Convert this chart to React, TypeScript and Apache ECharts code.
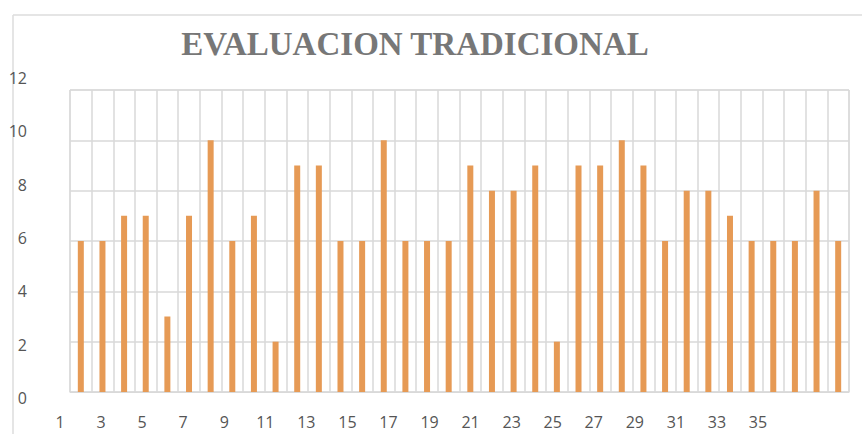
import React, { useEffect, useRef } from "react";
import * as echarts from "echarts";

const title = "EVALUACION TRADICIONAL";
const categories = [
  "1", "2", "3", "4", "5", "6", "7", "8", "9", "10", "11", "12",
  "13", "14", "15", "16", "17", "18", "19", "20", "21", "22", "23", "24",
  "25", "26", "27", "28", "29", "30", "31", "32", "33", "34", "35", "36",
];
const values = [
  6, 6, 7, 7, 3, 7, 10, 6, 7, 2, 9, 9,
  6, 6, 10, 6, 6, 6, 9, 8, 8, 9, 2, 9,
  9, 10, 9, 6, 8, 8, 7, 6, 6, 6, 8, 6,
];
const xTickLabels = [
  "1", "2", "3", "4", "5", "6", "7", "8", "9", "10", "11", "12",
  "13", "14", "15", "16", "17", "18", "19", "20", "21", "22", "23", "24",
  "25", "26", "27", "28", "29", "30", "31", "32", "33", "34", "35",
];
const yMin = 0;
const yMax = 12;
const yStep = 2;

export default function App() {
  const ref = useRef<HTMLDivElement>(null);
  useEffect(() => {
    document.body.style.margin = "0";
    if (!ref.current) return;
    const chart = echarts.init(ref.current, null, { renderer: "svg" });
    const grid = "#d9d9d9";
    const labelFont = { fontFamily: "Open Sans", fontSize: 16, color: "#555555" };
    chart.setOption({
      animation: false,
      backgroundColor: "#ffffff",
      grid: [
        { left: 70, top: 90, width: 779, height: 302, show: true, borderColor: grid, borderWidth: 1 },
        { left: 60, top: 78, width: 698, height: 320, show: false },
      ],
      xAxis: [
        {
          type: "category",
          gridIndex: 0,
          data: categories,
          axisLabel: { show: false },
          axisTick: { show: false },
          axisLine: { lineStyle: { color: grid } },
          splitLine: { show: true, interval: 0, lineStyle: { color: grid, width: 1.5 } },
        },
        {
          type: "category",
          gridIndex: 1,
          data: xTickLabels,
          boundaryGap: false,
          axisLabel: { interval: 1, margin: 16, ...labelFont },
          axisTick: { show: false },
          axisLine: { show: false },
          splitLine: { show: false },
        },
      ],
      yAxis: [
        {
          type: "value",
          gridIndex: 0,
          min: yMin,
          max: yMax,
          interval: yStep,
          axisLabel: { show: false },
          axisLine: { show: false },
          axisTick: { show: false },
          splitLine: { show: true, lineStyle: { color: grid, width: 1.5 } },
        },
        {
          type: "value",
          gridIndex: 1,
          min: yMin,
          max: yMax,
          interval: yStep,
          axisLabel: { margin: 33, align: "right", ...labelFont },
          axisLine: { show: false },
          axisTick: { show: false },
          splitLine: { show: false },
        },
      ],
      series: [
        {
          type: "bar",
          xAxisIndex: 0,
          yAxisIndex: 0,
          data: values,
          barWidth: 6,
          itemStyle: { color: "#e69a55" },
        },
      ],
      graphic: [
        {
          type: "line",
          shape: { x1: 13, y1: 15, x2: 862, y2: 15 },
          style: { stroke: "#dcdcdc", lineWidth: 1.5 },
        },
        {
          type: "line",
          shape: { x1: 13, y1: 15, x2: 13, y2: 434 },
          style: { stroke: "#dcdcdc", lineWidth: 1.5 },
        },
        {
          type: "text",
          x: 415,
          y: 44,
          style: {
            text: title,
            font: "bold 33px 'Liberation Serif'",
            fill: "#777777",
            textAlign: "center",
            textVerticalAlign: "middle",
          },
        },
      ],
    });
    return () => chart.dispose();
  }, []);
  return <div ref={ref} style={{ width: 862, height: 434 }} />;
}
